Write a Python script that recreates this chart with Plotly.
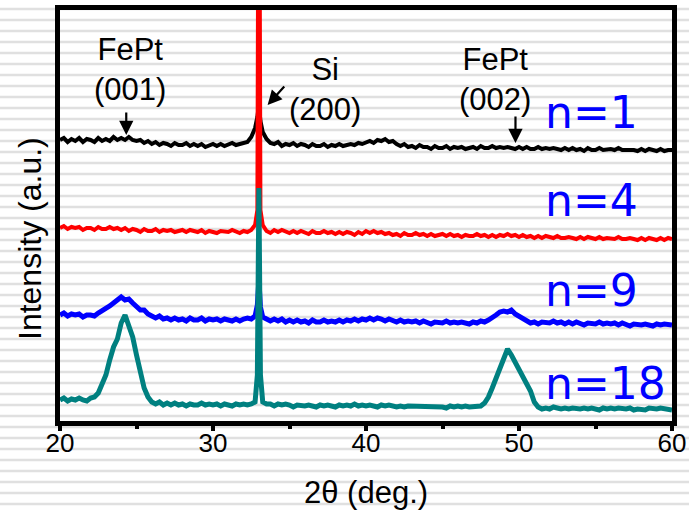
import numpy as np
import plotly.graph_objects as go

# 2-theta sampling grid (deg.): 0.25 deg steps, plus two extra samples around the Si (200) line
TWO_THETA = sorted(list(np.round(np.arange(20, 60.0001, 0.25), 2)) + [32.9, 33.1])

# Stacked, offset intensities (a.u.)
N1 = [275, 277, 273, 276, 274, 277, 273, 276, 275, 273, 277, 274, 276, 274, 278, 275,
      277, 275, 278, 275, 274, 275, 272, 274, 271, 273, 270, 272, 271, 269, 272, 270,
      270, 272, 269, 271, 269, 271, 268, 270, 271, 269, 271, 269, 270, 272, 270, 271,
      271, 273, 278, 287, 298, 310, 294, 283, 276, 272,
      271, 273, 269, 271, 270, 272, 269, 271, 270, 268, 271, 269, 269, 271, 268, 270,
      269, 271, 269, 270, 271, 270, 272, 271, 272, 274, 272, 275, 274, 276, 273, 274,
      271, 269, 271, 268, 269, 267, 270, 268, 268, 266, 269, 267, 267, 269, 266, 268,
      267, 268, 266, 267, 268, 266, 269, 267, 267, 269, 267, 268, 267, 268, 267, 266,
      268, 266, 268, 266, 266, 268, 266, 267, 266, 267, 266, 265, 267, 265, 267, 265,
      266, 264, 267, 265, 265, 267, 265, 266, 266, 265, 267, 265, 265, 266, 265, 264,
      266, 264, 266, 265, 264, 266, 264, 265, 265]
N4 = [187, 189, 186, 188, 187, 188, 185, 187, 187, 185, 188, 186, 186, 188, 186, 187,
      185, 187, 184, 186, 185, 183, 186, 184, 184, 186, 183, 185, 184, 185, 183, 184,
      185, 183, 185, 184, 183, 185, 182, 184, 183, 182, 184, 183, 183, 185, 183, 182,
      184, 183, 185, 190, 205, 720, 205, 190, 184, 182,
      185, 183, 185, 183, 182, 184, 182, 184, 183, 181, 184, 182, 182, 184, 182, 183,
      181, 183, 181, 183, 182, 180, 183, 181, 184, 182, 184, 182, 183, 181, 182, 180,
      181, 179, 182, 180, 180, 182, 180, 181, 179, 181, 179, 180, 181, 179, 181, 179,
      180, 178, 180, 179, 179, 181, 179, 180, 178, 180, 178, 180, 179, 181, 179, 180,
      178, 180, 178, 179, 177, 179, 177, 179, 178, 177, 179, 177, 177, 178, 177, 176,
      178, 176, 178, 177, 176, 178, 176, 177, 177, 176, 178, 176, 176, 177, 176, 175,
      177, 175, 177, 176, 175, 177, 175, 177, 176]
N9 = [100, 102, 99, 101, 100, 101, 98, 100, 100, 99, 102, 104, 106, 109, 112, 115,
      118, 115, 116, 112, 108, 105, 105, 101, 99, 97, 99, 96, 97, 95, 97, 95,
      96, 94, 97, 95, 95, 97, 94, 96, 95, 96, 94, 96, 95, 94, 96, 94,
      96, 97, 96, 99, 110, 135, 108, 98, 96, 94,
      96, 94, 96, 93, 95, 93, 95, 93, 94, 92, 95, 93, 93, 95, 93, 94,
      93, 95, 93, 95, 94, 96, 94, 96, 95, 97, 95, 97, 96, 94, 96, 94,
      93, 95, 93, 94, 93, 94, 92, 94, 93, 91, 93, 92, 92, 94, 92, 93,
      92, 93, 92, 91, 93, 92, 94, 93, 95, 97, 100, 103, 104, 103, 105, 101,
      99, 96, 94, 92, 93, 91, 93, 92, 92, 94, 92, 93, 91, 93, 91, 93,
      92, 90, 92, 91, 91, 93, 91, 92, 91, 92, 90, 92, 91, 89, 91, 90,
      90, 91, 90, 89, 91, 90, 91, 90, 90]
N18 = [15, 17, 14, 16, 15, 17, 15, 14, 17, 18, 22, 30, 40, 55, 68, 76,
       92, 100, 88, 78, 60, 42, 27, 18, 13, 11, 13, 10, 12, 10, 12, 10,
       11, 9, 11, 10, 10, 12, 10, 11, 10, 11, 9, 11, 10, 9, 11, 10,
       11, 10, 11, 13, 40, 227, 40, 13, 11, 11,
       9, 11, 10, 11, 10, 8, 10, 9, 9, 10, 9, 8, 10, 9, 10, 9,
       8, 10, 9, 10, 9, 11, 9, 10, 9, 10, 9, 8, 10, 9, 10, 9,
       8, 9, 8, 9, 9, 8, 9, 8, 8, 9, 8, 9, 8, 7, 9, 8,
       9, 8, 9, 8, 8, 9, 9, 12, 18, 27, 36, 46, 54, 66, 60, 53,
       47, 40, 31, 24, 13, 8, 6, 7, 6, 8, 7, 6, 7, 6, 7, 6,
       6, 7, 6, 7, 6, 5, 7, 6, 7, 6, 7, 6, 6, 7, 5, 6,
       6, 5, 7, 6, 6, 7, 6, 6, 5]

for s in (N1, N4, N9, N18):
    assert len(s) == len(TWO_THETA), len(s)

SERIES = [("n=1", N1, "#000000", 4), ("n=4", N4, "#ff0000", 4),
          ("n=9", N9, "#0000ff", 5), ("n=18", N18, "#008080", 5)]
LABEL_Y = [303, 215, 125, 32]
LABEL_X = 51.54

TICKS = [20, 30, 40, 50, 60]

fig = go.Figure()
for name, ys, col, w in SERIES:
    fig.add_trace(go.Scatter(x=TWO_THETA, y=ys, mode="lines", name=name,
                             line=dict(color=col, width=w)))

# striped page background (decoration); plot area spans pixel rows 10..421
TOP, BOT = 10, 421
shapes = []
for k in range(48):
    py = 9 + 11 * k
    yp = (BOT - py) / (BOT - TOP)
    shapes.append(dict(type="line", xref="paper", yref="paper", x0=-0.2, x1=1.2,
                       y0=yp, y1=yp, line=dict(color="#e0e0e0", width=2.5), layer="below"))

ann = []
for (name, _, _, _), ly in zip(SERIES, LABEL_Y):
    ann.append(dict(x=LABEL_X, y=ly, xref="x", yref="y", text=name, showarrow=False,
                    xanchor="left", yanchor="middle",
                    font=dict(family="DejaVu Sans", size=44, color="#0000ff")))

txt_font = dict(family="Arial", size=31, color="black")
ann += [
    dict(x=24.55, y=346, text="FePt<br>(001)", showarrow=False, font=txt_font,
         xanchor="center", yanchor="middle"),
    dict(x=37.3, y=326, text="Si<br>(200)", showarrow=False, font=txt_font,
         xanchor="center", yanchor="middle"),
    dict(x=48.4, y=336, text="FePt<br>(002)", showarrow=False, font=txt_font,
         xanchor="center", yanchor="middle"),
    dict(x=24.33, y=280, ax=0, ay=-24, text="", showarrow=True, arrowhead=2,
         arrowsize=1.3, arrowwidth=2.2, arrowcolor="black"),
    dict(x=33.57, y=310, ax=18, ay=-20, text="", showarrow=True, arrowhead=2,
         arrowsize=1.3, arrowwidth=2.2, arrowcolor="black"),
    dict(x=49.77, y=272, ax=0, ay=-28, text="", showarrow=True, arrowhead=2,
         arrowsize=1.3, arrowwidth=2.2, arrowcolor="black"),
    dict(x=(30 - 60) / 612, y=(BOT - 239) / (BOT - TOP), xref="paper", yref="paper",
         text="Intensity (a.u.)", textangle=-90, showarrow=False,
         font=dict(family="Arial", size=32, color="black"),
         xanchor="center", yanchor="middle"),
    dict(x=0.5, y=(BOT - 492) / (BOT - TOP), xref="paper", yref="paper",
         text="2θ (deg.)", showarrow=False,
         font=dict(family="Arial", size=31, color="black"),
         xanchor="center", yanchor="middle"),
]

fig.update_layout(
    width=689, height=512, autosize=False,
    margin=dict(l=60, r=17, t=TOP, b=512 - BOT, pad=0, autoexpand=False),
    paper_bgcolor="white", plot_bgcolor="rgba(0,0,0,0)",
    showlegend=False, shapes=shapes, annotations=ann,
    xaxis=dict(range=[20, 60], showline=True, linecolor="black", linewidth=5,
               mirror=True, ticks="outside", ticklen=5, tickwidth=4, tickcolor="black",
               tickvals=TICKS, ticktext=[str(t) for t in TICKS],
               tickfont=dict(family="Arial", size=26, color="black"),
               ticklabelstandoff=-10, automargin=False,
               showgrid=False, zeroline=False,
               minor=dict(ticks="outside", ticklen=3, tickwidth=4, tickcolor="black",
                          tickvals=[25, 35, 45, 55])),
    yaxis=dict(range=[415 - BOT, 415 - TOP], showline=True, linecolor="black", linewidth=5,
               mirror=True, showticklabels=False, ticks="", showgrid=False,
               zeroline=False, automargin=False),
)

fig.write_html("out.html", config={"displayModeBar": False},
               post_script="document.body.style.margin='0';")
